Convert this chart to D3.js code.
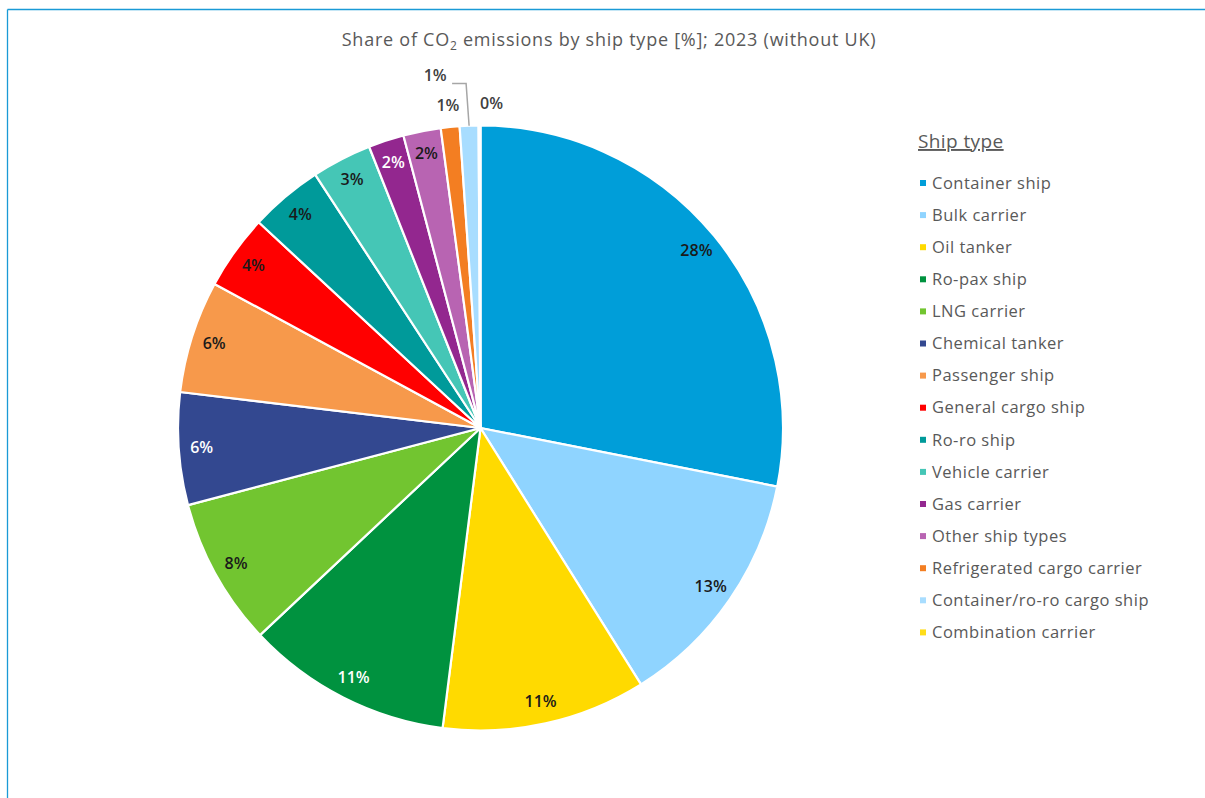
<!DOCTYPE html>
<html>
<head>
<meta charset="utf-8">
<script src="https://cdn.jsdelivr.net/npm/d3@7"></script>
<style>
  html, body { margin: 0; padding: 0; background: #fff; }
  svg { display: block; }
  text { font-family: "Open Sans", "Noto Sans", sans-serif; }
</style>
</head>
<body>
<svg id="chart" width="1205" height="798"></svg>
<script>
const categories = [
  "Container ship", "Bulk carrier", "Oil tanker", "Ro-pax ship", "LNG carrier",
  "Chemical tanker", "Passenger ship", "General cargo ship", "Ro-ro ship",
  "Vehicle carrier", "Gas carrier", "Other ship types", "Refrigerated cargo carrier",
  "Container/ro-ro cargo ship", "Combination carrier"
];
const shares = [28.1, 13.0, 10.9, 11.0, 7.9, 6.0, 6.0, 4.0, 3.9, 3.2, 1.9, 2.0, 1.0, 1.0, 0.1];
const labels = ["28%", "13%", "11%", "11%", "8%", "6%", "6%", "4%", "4%", "3%", "2%", "2%", "1%", "1%", "0%"];
const colors = [
  "#009ED9", "#8FD4FF", "#FFDA00", "#00923F", "#72C530",
  "#334890", "#F7994B", "#FF0000", "#009A9A", "#45C6B6",
  "#93278F", "#B864B2", "#F37E22", "#A8DDFF", "#FFDD1A"
];
const labelColors = [
  "#1a1a1a", "#1a1a1a", "#1a1a1a", "#ffffff", "#1a1a1a",
  "#ffffff", "#1a1a1a", "#1a1a1a", "#1a1a1a", "#1a1a1a",
  "#ffffff", "#1a1a1a", "#404040", "#404040", "#404040"
];
const titleText = "Share of CO";
const legendTitle = "Ship type";

const svg = d3.select("#chart");

// frame lines
svg.append("line").attr("x1", 7.5).attr("y1", 9.5).attr("x2", 1205).attr("y2", 9.5)
  .attr("stroke", "#1A9AD6").attr("stroke-width", 1.3);
svg.append("line").attr("x1", 7.5).attr("y1", 9.5).attr("x2", 7.5).attr("y2", 798)
  .attr("stroke", "#1A9AD6").attr("stroke-width", 1.3);

// title
const title = svg.append("text").attr("x", 609).attr("y", 46)
  .attr("text-anchor", "middle").attr("fill", "#595959").attr("font-size", 18)
  .attr("letter-spacing", 0.75);
title.append("tspan").text(titleText);
title.append("tspan").attr("font-size", 12).attr("dy", 4).text("2");
title.append("tspan").attr("dy", -4).text(" emissions by ship type [%]; 2023 (without UK)");

// pie
const cx = 480.5, cy = 428, R = 302.5;
const data = categories.map((c, i) => ({ name: c, value: shares[i], i }));
const pie = d3.pie().value(d => d.value).sort(null);
const arcs = pie(data);
const arc = d3.arc().innerRadius(0).outerRadius(R);
const g = svg.append("g").attr("transform", `translate(${cx},${cy})`);

g.selectAll("path.slice").data(arcs).join("path")
  .attr("class", "slice")
  .attr("d", arc)
  .attr("fill", d => colors[d.data.i])
  .attr("stroke", "#fff").attr("stroke-width", 2.2).attr("stroke-linejoin", "round");

// labels
const inner = d3.arc().innerRadius(R - 23).outerRadius(R - 23);
const outer = d3.arc().innerRadius(R + 22).outerRadius(R + 22);
arcs.forEach(d => {
  const i = d.data.i;
  let x, y, anchor = "middle";
  if (d.data.value >= 1.5) {
    [x, y] = inner.centroid(d);
  } else if (categories[i] === "Container/ro-ro cargo ship") {
    const mid = (d.startAngle + d.endAngle) / 2;
    const ex = Math.sin(mid) * R, ey = -Math.cos(mid) * R;
    const ky = -(R + 42);
    g.append("polyline")
      .attr("points", `${ex},${ey} ${ex - 3},${ky} ${ex - 17},${ky}`)
      .attr("fill", "none").attr("stroke", "#A6A6A6").attr("stroke-width", 1.5);
    x = ex - 34; y = ky - 8;
  } else if (categories[i] === "Combination carrier") {
    [x, y] = outer.centroid(d);
    x += 12;
  } else {
    [x, y] = outer.centroid(d);
  }
  g.append("text").attr("x", x).attr("y", y).attr("dy", "0.35em")
    .attr("text-anchor", anchor)
    .attr("fill", labelColors[i]).attr("font-size", 16).attr("font-weight", 600)
    .text(labels[i]);
});

// legend
const lg = svg.append("g");
lg.append("text").attr("x", 918).attr("y", 148).attr("fill", "#595959")
  .attr("font-size", 19).attr("letter-spacing", 0.4)
  .attr("text-decoration", "underline").text(legendTitle);
const items = lg.selectAll("g.item").data(categories).join("g")
  .attr("class", "item")
  .attr("transform", (d, i) => `translate(920,${183 + i * 32.1})`);
items.append("rect").attr("x", 0).attr("y", -3).attr("width", 6).attr("height", 6)
  .attr("fill", (d, i) => colors[i]);
items.append("text").attr("x", 12).attr("y", 0).attr("dy", "0.35em")
  .attr("fill", "#595959").attr("font-size", 16.5).attr("letter-spacing", 0.5).text(d => d);
</script>
</body>
</html>
